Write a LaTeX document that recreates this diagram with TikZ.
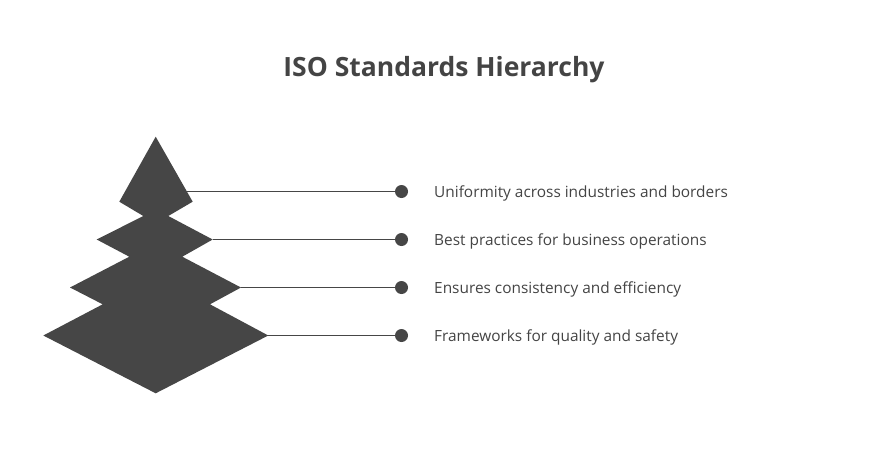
\documentclass[tikz,border=0pt]{standalone}
\usepackage{fontspec}
\setmainfont{Open Sans}
\usetikzlibrary{positioning}
\definecolor{treegray}{HTML}{464646}
\definecolor{inkgray}{HTML}{444444}

\begin{document}
\begin{tikzpicture}[x=1pt, y=-1pt,
    dot/.style={circle, fill=treegray, inner sep=0pt, minimum size=13pt},
    itemtext/.style={anchor=base west, text=inkgray, inner sep=0pt, font=\fontsize{15.4}{18}\selectfont},
    link/.style={draw=treegray, line width=1.8pt}]
    \useasboundingbox (0, 0) rectangle (888, 456);
    \node[text=inkgray, anchor=base, font=\bfseries\fontsize{26.5}{30}\selectfont] (title) at (444, 76) {ISO Standards Hierarchy};
    \fill[treegray] (155.7, 136.7) -- (192.7, 201.7) -- (168.3, 216) -- (212.7, 239.5) -- (182.3, 256.7)
        -- (241, 287.5) -- (210, 304.3) -- (268.3, 335.5) -- (155.7, 393.3) -- (43.3, 335.5)
        -- (102.7, 304.3) -- (70, 287.5) -- (129.3, 256.7) -- (96.7, 239.5) -- (143.3, 216)
        -- (119.3, 201.7) -- cycle;
    \coordinate (tip1) at (186.9, 191.5);
    \coordinate (tip2) at (212.7, 239.5);
    \coordinate (tip3) at (241, 287.5);
    \coordinate (tip4) at (268.3, 335.5);
    \node[dot] (d1) at (401.5, 191.5) {};
    \node[dot] (d2) at (401.5, 239.5) {};
    \node[dot] (d3) at (401.5, 287.5) {};
    \node[dot] (d4) at (401.5, 335.5) {};
    \draw[link] (tip1) -- (d1.center);
    \draw[link] (tip2) -- (d2.center);
    \draw[link] (tip3) -- (d3.center);
    \draw[link] (tip4) -- (d4.center);
    \node[itemtext] (t1) at (434, 197) {Uniformity across industries and borders};
    \node[itemtext] (t2) at (434, 245) {Best practices for business operations};
    \node[itemtext] (t3) at (434, 293) {Ensures consistency and efficiency};
    \node[itemtext] (t4) at (434, 341) {Frameworks for quality and safety};
\end{tikzpicture}
\end{document}
